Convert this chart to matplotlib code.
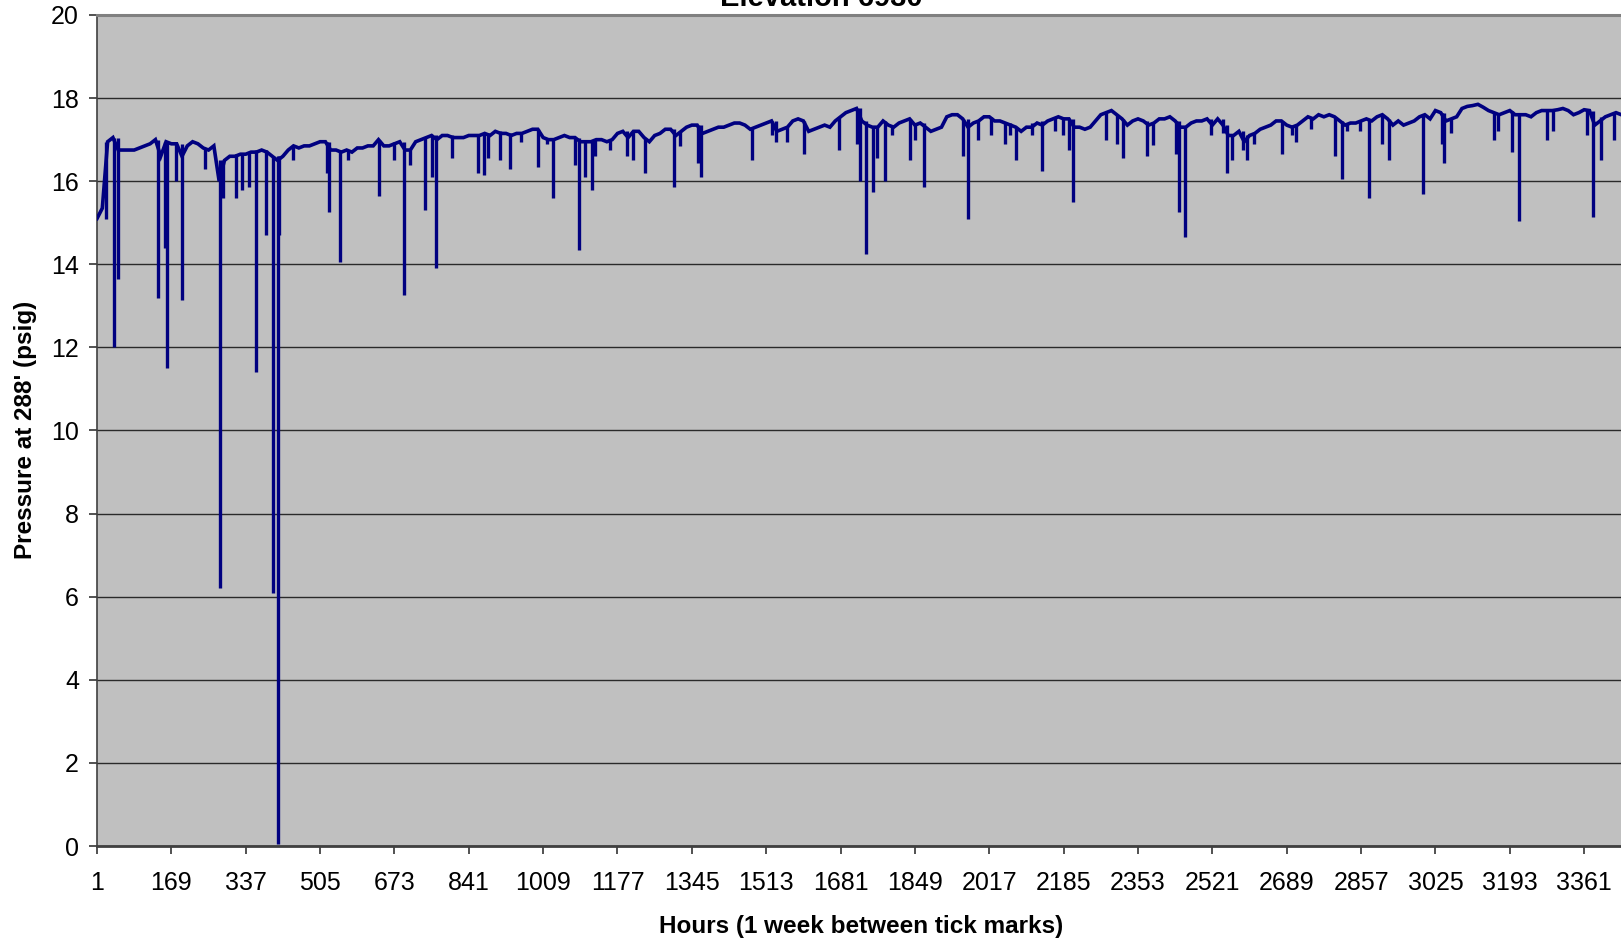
import numpy as np
import matplotlib
matplotlib.use('Agg')
import matplotlib.pyplot as plt

plt.rcParams['font.family'] = ['Liberation Sans', 'DejaVu Sans']

# pressure readings every 12 hours, starting at hour 1
step_hours = 12
baseline_psig = [
    15.1, 15.35, 16.95, 17.05, 16.75, 16.75, 16.75, 16.75, 16.8, 16.85, 16.9, 17.0,
    16.6, 16.95, 16.9, 16.9, 16.6, 16.85, 16.95, 16.9, 16.8, 16.75, 16.85, 16.0,
    16.5, 16.6, 16.6, 16.65, 16.65, 16.7, 16.7, 16.75, 16.7, 16.6, 16.5, 16.6,
    16.75, 16.85, 16.8, 16.85, 16.85, 16.9, 16.95, 16.95, 16.75, 16.75, 16.7, 16.75,
    16.7, 16.8, 16.8, 16.85, 16.85, 17.0, 16.85, 16.85, 16.9, 16.95, 16.75, 16.75,
    16.95, 17.0, 17.05, 17.1, 17.0, 17.1, 17.1, 17.05, 17.05, 17.05, 17.1, 17.1,
    17.1, 17.15, 17.1, 17.2, 17.15, 17.15, 17.1, 17.15, 17.15, 17.2, 17.25, 17.25,
    17.05, 17.0, 17.0, 17.05, 17.1, 17.05, 17.05, 16.95, 16.95, 16.95, 17.0, 17.0,
    16.95, 17.0, 17.15, 17.2, 17.05, 17.2, 17.2, 17.05, 16.95, 17.1, 17.15, 17.25,
    17.25, 17.1, 17.2, 17.3, 17.35, 17.35, 17.15, 17.2, 17.25, 17.3, 17.3, 17.35,
    17.4, 17.4, 17.35, 17.25, 17.3, 17.35, 17.4, 17.45, 17.2, 17.25, 17.3, 17.45,
    17.5, 17.45, 17.2, 17.25, 17.3, 17.35, 17.3, 17.45, 17.55, 17.65, 17.7, 17.75,
    17.45, 17.35, 17.3, 17.3, 17.45, 17.35, 17.3, 17.4, 17.45, 17.5, 17.35, 17.4,
    17.3, 17.2, 17.25, 17.3, 17.55, 17.6, 17.6, 17.5, 17.3, 17.4, 17.45, 17.55,
    17.55, 17.45, 17.45, 17.4, 17.35, 17.3, 17.2, 17.3, 17.3, 17.4, 17.35, 17.45,
    17.5, 17.55, 17.5, 17.5, 17.3, 17.3, 17.25, 17.3, 17.45, 17.6, 17.65, 17.7,
    17.6, 17.5, 17.35, 17.45, 17.5, 17.45, 17.35, 17.4, 17.5, 17.5, 17.55, 17.45,
    17.3, 17.3, 17.4, 17.45, 17.45, 17.5, 17.35, 17.5, 17.35, 17.1, 17.1, 17.2,
    16.95, 17.1, 17.15, 17.25, 17.3, 17.35, 17.45, 17.45, 17.35, 17.3, 17.35, 17.45,
    17.55, 17.5, 17.6, 17.55, 17.6, 17.55, 17.45, 17.35, 17.4, 17.4, 17.45, 17.5,
    17.45, 17.55, 17.6, 17.5, 17.35, 17.45, 17.35, 17.4, 17.45, 17.55, 17.6, 17.5,
    17.7, 17.65, 17.45, 17.5, 17.55, 17.75, 17.8, 17.82, 17.85, 17.78, 17.7, 17.65,
    17.6, 17.65, 17.7, 17.6, 17.6, 17.6, 17.55, 17.65, 17.7, 17.7, 17.7, 17.72,
    17.75, 17.7, 17.6, 17.65, 17.72, 17.7, 17.35, 17.45, 17.55, 17.6, 17.65, 17.6,
]

# short pressure drops (hour, psig)
dip_hours = [
    22, 39, 48, 138, 155, 160, 179, 192, 245, 279, 286, 316, 328, 344, 361, 382,
    399, 410, 413, 443, 521, 526, 551,
    569, 639, 673, 695, 708, 742, 759, 766, 803, 861, 876, 885, 912, 934, 960,
    998, 1017, 1031, 1080, 1089, 1104, 1119, 1126,
    1160, 1198, 1213, 1239, 1305, 1318, 1359, 1366, 1480, 1525, 1535, 1559,
    1599, 1678, 1719, 1724,
    1738, 1755, 1764, 1781, 1798, 1838, 1849, 1870, 1958, 1968, 1992, 2021,
    2053, 2064, 2078, 2113, 2137, 2165, 2184, 2198, 2207, 2280,
    2305, 2318, 2374, 2386, 2438, 2446, 2459, 2519, 2544, 2553, 2565, 2591,
    2599, 2614, 2678, 2700, 2710, 2744, 2798, 2815, 2825, 2855, 2876,
    2905, 2919, 2998, 3039, 3045, 3060, 3158, 3167, 3199, 3214, 3278, 3291,
    3368, 3382, 3398, 3429,
]
dip_psig = [
    15.1, 12.0, 13.65, 13.2, 14.4, 11.5, 16.0, 13.15, 16.3, 6.2, 15.6, 15.6,
    15.8, 15.85, 11.4, 14.7, 6.1, 0.05, 14.7, 16.5, 16.2, 15.25, 14.05,
    16.5, 15.65, 16.5, 13.25, 16.4, 15.3, 16.1, 13.9, 16.55, 16.2, 16.15, 16.55,
    16.5, 16.3, 16.95, 16.35, 16.9, 15.6, 16.4, 14.35, 16.1, 15.8, 16.6,
    16.75, 16.6, 16.5, 16.2, 15.87, 16.85, 16.45, 16.1, 16.5, 17.1, 16.95, 16.95,
    16.65, 16.75, 16.9, 16.0,
    14.25, 15.75, 16.55, 16.0, 17.1, 16.5, 17.0, 15.85, 16.6, 15.1, 17.0, 17.1,
    16.9, 17.1, 16.5, 17.1, 16.25, 17.2, 17.1, 16.75, 15.5, 17.0,
    16.9, 16.55, 16.6, 16.86, 16.65, 15.25, 14.65, 17.1, 17.15, 16.2, 16.5, 16.75,
    16.5, 16.9, 16.65, 17.1, 16.95, 17.25, 16.6, 16.05, 17.2, 17.2, 15.6,
    16.9, 16.5, 15.68, 16.9, 16.45, 17.15, 17.0, 17.2, 16.7, 15.05, 17.0, 17.2,
    17.1, 15.15, 16.5, 17.0,
]

week_ticks = list(range(1, 3362, 168))

hours = 1 + step_hours * np.arange(len(baseline_psig))
base = np.array(baseline_psig)

# top of each drop = higher of the two readings around it
idx = (np.array(dip_hours) - 1) // step_hours
dip_top = np.maximum(base[idx], base[np.minimum(idx + 1, len(base) - 1)])

fig = plt.figure(figsize=(16.21, 9.40), dpi=100)
ax = fig.add_axes([97 / 1621, 1 - 846 / 940, 1 - 97 / 1621, (846 - 15) / 940])
ax.set_facecolor('#C0C0C0')

navy = '#000080'
ax.plot(hours, base, color=navy, lw=2.6, solid_joinstyle='miter', zorder=3)
ax.vlines(dip_hours, dip_psig, dip_top, color=navy, lw=2.4, zorder=3)

ax.set_xlim(1, 1 + (1621 - 97) / 0.4426)
ax.set_ylim(0, 20)
ax.set_yticks(range(0, 21, 2))
ax.set_xticks(week_ticks)
ax.set_xticklabels([str(t) for t in week_ticks])
ax.grid(axis='y', color='#2a2a2a', lw=1.0)
ax.set_axisbelow(True)

ax.tick_params(axis='both', direction='out', length=6, width=1.2, colors='#333333',
               labelcolor='black', labelsize=18)
ax.tick_params(axis='x', pad=12)
ax.tick_params(axis='y', pad=7)

ax.spines['right'].set_visible(False)
ax.spines['top'].set_color('#808080')
ax.spines['top'].set_linewidth(2.2)
ax.spines['left'].set_color('#404040')
ax.spines['left'].set_linewidth(1.2)
ax.spines['bottom'].set_color('#404040')
ax.spines['bottom'].set_linewidth(2.0)

fig.text(26 / 1621, 1 - 430 / 940, "Pressure at 288' (psig)", rotation=90,
         ha='center', va='center', fontsize=17.5, fontweight='bold')
fig.text(861 / 1621, 1 - 926 / 940, 'Hours (1 week between tick marks)',
         ha='center', va='center', fontsize=17.5, fontweight='bold')
fig.text(821 / 1621, 1 - 6.5 / 940, 'Elevation 6930',
         ha='center', va='baseline', fontsize=21, fontweight='bold')

fig.savefig('out.png', dpi=100)
